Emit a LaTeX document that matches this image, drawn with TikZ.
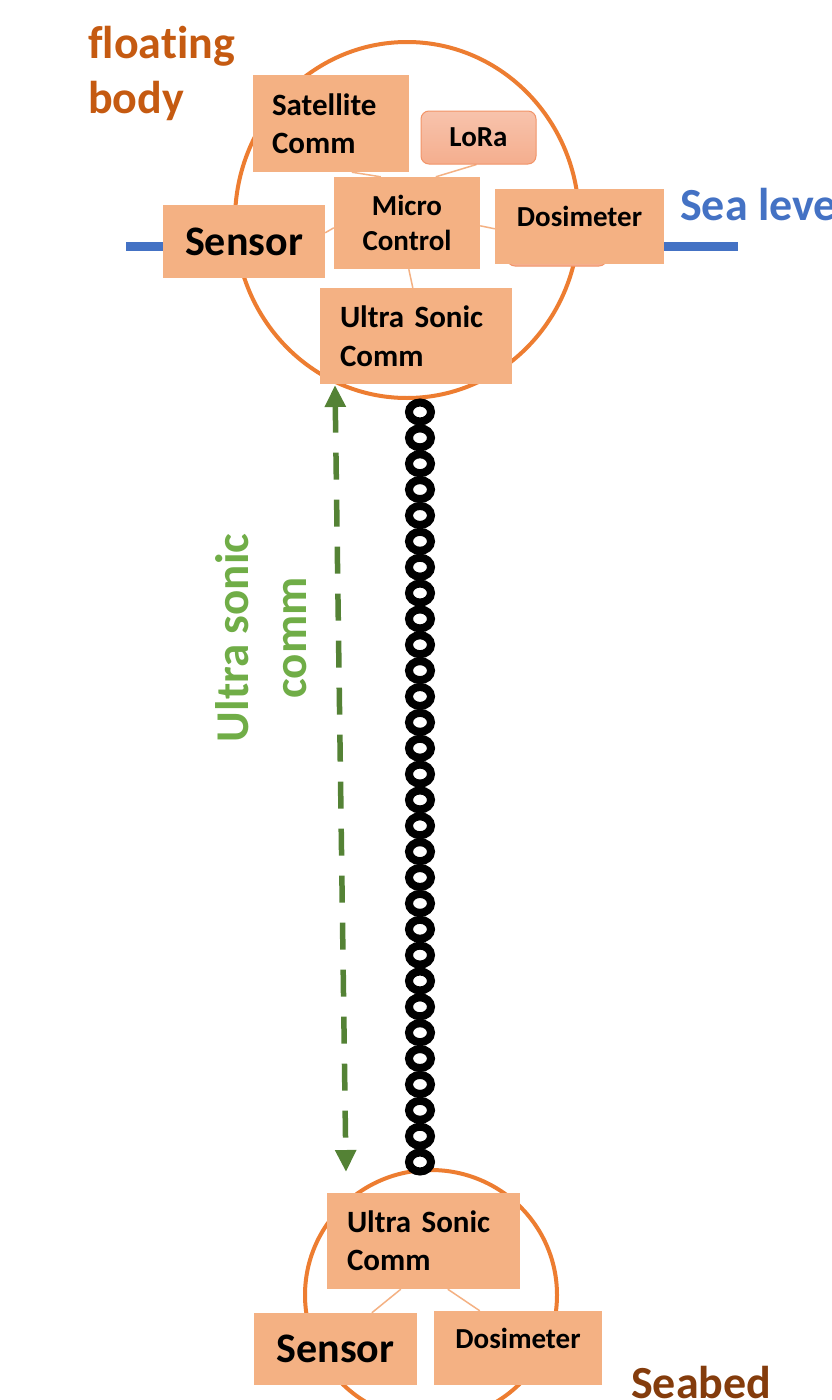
\documentclass[tikz,border=0pt]{standalone}
\usepackage{fontspec}
\setmainfont{Carlito}[Ligatures=NoCommon]
\usetikzlibrary{arrows.meta,calc,shapes.geometric}
\definecolor{boxc}{HTML}{F4B183}
\definecolor{ringc}{HTML}{ED7D31}
\definecolor{seac}{HTML}{4472C4}
\definecolor{floatc}{HTML}{C55A11}
\definecolor{bedc}{HTML}{843C0C}
\definecolor{txtgreen}{HTML}{70AD47}
\definecolor{arrgreen}{HTML}{548235}
\definecolor{lorafill}{HTML}{F5AE8E}
\definecolor{loratop}{HTML}{F7C3AC}
\definecolor{loraedge}{HTML}{F29468}
\pgfdeclarelayer{ringlayer}
\pgfdeclarelayer{linklayer}
\pgfsetlayers{ringlayer,linklayer,main}
\tikzset{
  box/.style={fill=boxc, draw=none, inner sep=0pt, font=\bfseries},
  ring/.style={draw=ringc, line width=4pt, fill=white},
  link/.style={draw=boxc, line width=1.5pt},
  chainlink/.style={draw=black, line width=8pt},
  commarrow/.style={draw=arrgreen, line width=5.5pt, dash pattern=on 27pt off 20pt,
    {Triangle[width=20pt,length=22pt]}-{Triangle[width=20pt,length=22pt]}},
  f46/.style={font=\bfseries\fontsize{46}{55}\selectfont},
}
\begin{document}
\begin{tikzpicture}[x=1pt,y=-1pt]
\useasboundingbox (0,0) rectangle (831,1400);

\begin{pgfonlayer}{ringlayer}
% sea level line
\coordinate (sl1) at (126,246);
\coordinate (sl2) at (738,246);
\draw[seac, line width=9pt] (sl1) -- (sl2);
% floating body ring
\draw[ring] (407,220) ellipse [x radius=172, y radius=178];
% seabed ring
\draw[ring] (431,1295) ellipse [x radius=126, y radius=125];
\end{pgfonlayer}

% hidden rounded shape under dosimeter
\node[draw=loraedge, fill=lorafill, rounded corners=8pt, minimum width=100, minimum height=74, line width=1pt] (hid) at (557,229) {};

% top boxes
\node[box, minimum width=156, minimum height=97, text width=118, align=left,
      font=\bfseries\fontsize{31}{38}\selectfont] (sat) at (331,123.5) {Satellite\\Comm};
\node[draw=loraedge, line width=1pt, top color=loratop, bottom color=lorafill, rounded corners=8pt,
      minimum width=115, minimum height=53, inner sep=0pt,
      font=\bfseries\fontsize{29}{35}\selectfont] (lora) at (478.5,137.5) {LoRa};
\node[box, minimum width=146, minimum height=92, align=center,
      font=\bfseries\fontsize{29}{35}\selectfont] (micro) at (407,223) {Micro\\Control};
\node[box, minimum width=162, minimum height=73,
      font=\bfseries\fontsize{42}{50}\selectfont] (sensor) at (244,241.5) {Sensor};
\node[box, minimum width=169, minimum height=75,
      font=\bfseries\fontsize{29}{35}\selectfont] (dos) at (579.5,226.5) {\raisebox{0pt}[0pt][0pt]{Dosimeter}};
\node[box, minimum width=192, minimum height=96, text width=152, align=left,
      font=\bfseries\fontsize{31}{39}\selectfont] (us) at (416,336) {Ultra Sonic\\Comm};

% chain
\foreach \i in {0,...,29}
  \draw[chainlink] (420,{412+\i*25.862}) ellipse [x radius=11, y radius=9.5];

% communication arrow
\coordinate (a1) at (335,385);
\coordinate (a2) at (346,1172);
\draw[commarrow] (a1) -- (a2);

\node[rotate=90, align=center, text=txtgreen, font=\bfseries\fontsize{47}{58}\selectfont] (uslabel) at (261,638) {Ultra sonic\\comm};

% bottom boxes
\node[box, minimum width=193, minimum height=96, text width=153, align=left,
      font=\bfseries\fontsize{31}{38}\selectfont] (bus) at (423.5,1241) {Ultra Sonic\\Comm};
\node[box, minimum width=163, minimum height=72,
      font=\bfseries\fontsize{42}{50}\selectfont] (bsen) at (335.5,1349) {Sensor};
\node[box, minimum width=168, minimum height=74,
      font=\bfseries\fontsize{29}{35}\selectfont] (bdos) at (518,1348) {\raisebox{0pt}[0pt][0pt]{Dosimeter}};

% connectors (behind boxes)
\begin{pgfonlayer}{linklayer}
\draw[link] ($(sat.south west)+(99,0)$) -- ($(micro.north west)+(47,0)$);
\draw[link] ($(lora.south west)+(56,0)$) -- ($(micro.north west)+(102,0)$);
\draw[link] ($(sensor.north east)+(0,28)$) -- ($(micro.north west)+(0,51)$);
\draw[link] ($(micro.north east)+(0,49)$) -- ($(dos.north west)+(0,40)$);
\draw[link] ($(micro.south west)+(75,0)$) -- ($(us.north west)+(93,0)$);
\draw[link] ($(bus.south west)+(74,0)$) -- ($(bsen.north west)+(118,0)$);
\draw[link] ($(bus.south west)+(121,0)$) -- ($(bdos.north west)+(46,0)$);
\end{pgfonlayer}

% labels
\node[anchor=base west, text=floatc, f46, inner sep=0pt] (fl1) at (88,58) {floating};
\node[anchor=base west, text=floatc, f46, inner sep=0pt] (fl2) at (88,113) {body};
\node[anchor=base west, text=seac, f46, inner sep=0pt] (sea) at (680,220) {Sea level};
\node[anchor=base west, text=bedc, f46, inner sep=0pt] (bed) at (631,1398) {Seabed};
\end{tikzpicture}
\end{document}
